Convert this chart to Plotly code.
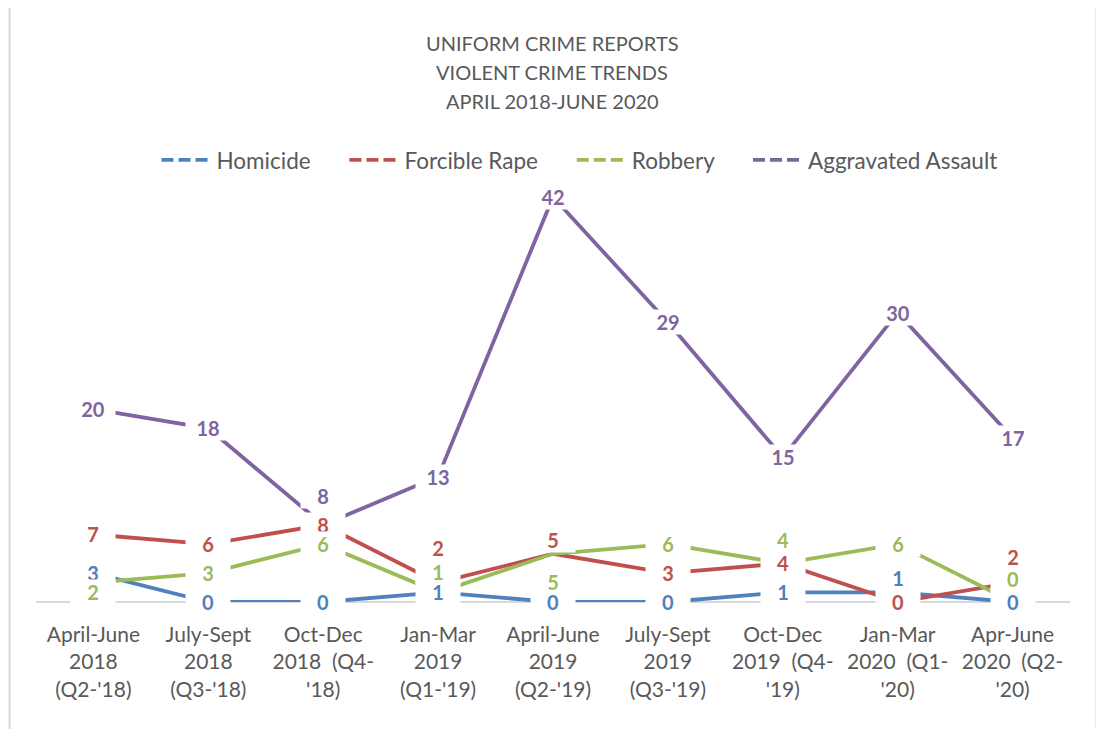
import plotly.graph_objects as go

quarters = [
    "April-June<br>2018<br>(Q2-'18)",
    "July-Sept<br>2018<br>(Q3-'18)",
    "Oct-Dec<br>2018  (Q4-<br>'18)",
    "Jan-Mar<br>2019<br>(Q1-'19)",
    "April-June<br>2019<br>(Q2-'19)",
    "July-Sept<br>2019<br>(Q3-'19)",
    "Oct-Dec<br>2019  (Q4-<br>'19)",
    "Jan-Mar<br>2020  (Q1-<br>'20)",
    "Apr-June<br>2020  (Q2-<br>'20)",
]
homicide = [3, 0, 0, 1, 0, 0, 1, 1, 0]
forcible_rape = [7, 6, 8, 2, 5, 3, 4, 0, 2]
robbery = [2, 3, 6, 1, 5, 6, 4, 6, 0]
aggravated_assault = [20, 18, 8, 13, 42, 29, 15, 30, 17]

title_lines = ["UNIFORM CRIME REPORTS", "VIOLENT CRIME TRENDS", "APRIL 2018-JUNE 2020"]

# label nudges (px, up is positive) to keep labels from overlapping
series = [
    ("Homicide", homicide, "#4F81BD", [0, 0, 0, 0, 0, 0, 0, 14, 0]),
    ("Forcible Rape", forcible_rape, "#C0504D", [0, 0, 0, 35, 14, 0, 0, 0, 26]),
    ("Robbery", robbery, "#9BBB59", [-9, 0, 0, 20, -28, 0, 23, 0, 23]),
    ("Aggravated Assault", aggravated_assault, "#8064A2", [0, 0, 29, 0, 0, 0, 0, 0, 0]),
]

FONT = "Lato"
GREY = "#595959"

fig = go.Figure()

for name, vals, color, _ in series:
    fig.add_trace(go.Scatter(
        x=quarters, y=vals, mode="lines", name=name,
        line=dict(color=color, width=3.8), showlegend=False, hoverinfo="x+y"
    ))

# legend entries drawn dashed, as in the original
for name, vals, color, _ in series:
    fig.add_trace(go.Scatter(
        x=[None], y=[None], mode="lines", name=name + "&nbsp;" * 5,
        line=dict(color=color, width=3.8, dash="12px,5px")
    ))

# data labels sit on the points with a white box that breaks the lines
annotations = []
for name, vals, color, nudges in series:
    for q, v, dy in zip(quarters, vals, nudges):
        annotations.append(dict(
            x=q, y=v, text=f"<b>{v}</b>", showarrow=False,
            xanchor="center", yanchor="middle", yshift=dy,
            font=dict(family=FONT, size=20, color=color),
            bgcolor="white", borderpad=2, width=40, height=20
        ))

# title lines, paper coords (plot area is 1035 x 434 px)
for i, line in enumerate(title_lines):
    annotations.append(dict(
        xref="paper", yref="paper", x=(552 - 35.5) / 1035, y=(602 - (43 + 29 * i)) / 434,
        text=line, showarrow=False, xanchor="center", yanchor="middle",
        font=dict(family=FONT, size=20, color=GREY)
    ))

fig.update_layout(
    width=1096, height=721,
    margin=dict(l=27.5, r=33.5, t=160, b=127, autoexpand=False),
    paper_bgcolor="white", plot_bgcolor="white",
    font=dict(family=FONT, color=GREY),
    legend=dict(
        orientation="h", x=(577.5 - 35.5) / 1035 + 0.016, xanchor="center", y=1.018, yanchor="middle",
        font=dict(family=FONT, size=22.5, color=GREY), itemwidth=50,
        bgcolor="rgba(0,0,0,0)"
    ),
    xaxis=dict(
        type="category", range=[-0.5, 8.5], showgrid=False, showline=False,
        zeroline=False, ticks="", ticklabelstandoff=18,
        tickfont=dict(family=FONT, size=21, color=GREY)
    ),
    yaxis=dict(
        range=[0, 45], showgrid=False, showticklabels=False, showline=False,
        zeroline=True, zerolinecolor="#D9D9D9", zerolinewidth=1.5
    ),
    annotations=annotations,
    shapes=[dict(
        type="rect", xref="paper", yref="paper",
        x0=-0.0256, x1=1.0256, y0=-0.31, y1=1.371,
        line=dict(color="#D9D9D9", width=2), layer="below"
    )],
    showlegend=True,
)

fig.write_html("out.html")
